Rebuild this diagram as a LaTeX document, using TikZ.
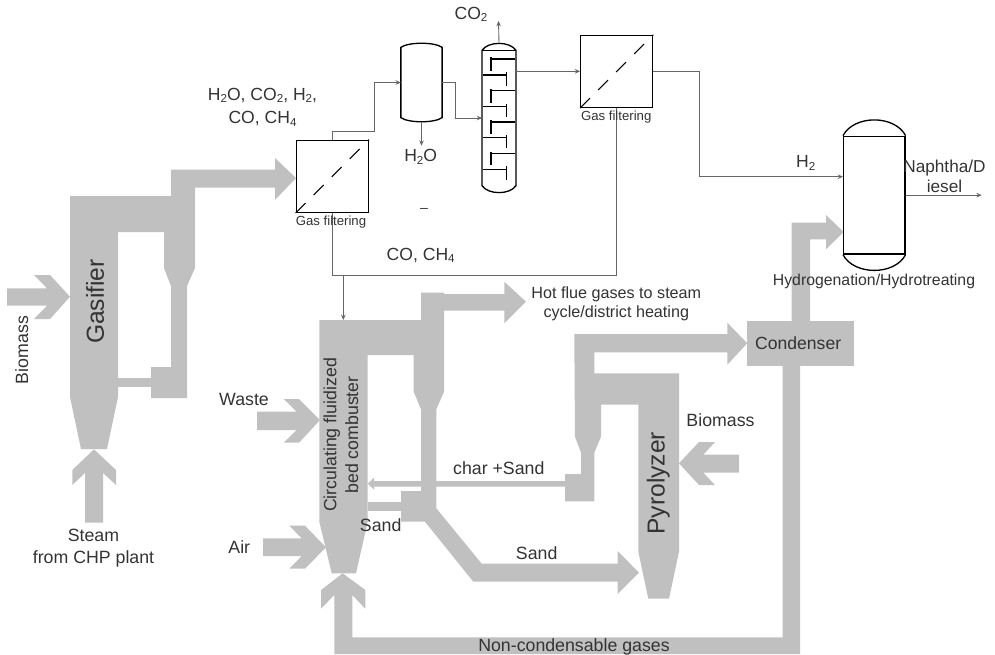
\documentclass[tikz,border=0pt]{standalone}
\usepackage{fontspec}
\setmainfont{Liberation Sans}
\usetikzlibrary{arrows.meta}
\definecolor{ductgrey}{HTML}{C0C0C0}
\definecolor{textgrey}{HTML}{333333}
\definecolor{linegrey}{HTML}{666666}
\newcommand{\gsub}[1]{\raisebox{-0.25ex}{\fontsize{6.6}{7}\selectfont #1}}
\begin{document}
\begin{tikzpicture}[
x=0.02cm, y=-0.02cm,
>={Stealth[length=3pt,width=2.6pt]},
duct/.style={fill=ductgrey, draw=none},
pipe/.style={draw=linegrey, line width=0.5pt},
vessel/.style={draw=black, line width=0.75pt},
filterbox/.style={rectangle, draw=black, line width=0.75pt, inner sep=0pt, minimum width=1.44cm, minimum height=1.44cm},
filterdash/.style={draw=black, line width=0.6pt, dash pattern=on 0.28cm off 0.23cm},
bodybox/.style={rectangle, vessel, inner sep=0pt},
lbl/.style={text=textgrey, inner sep=0pt, align=center, font=\fontsize{10.1}{11.4}\selectfont},
gaslbl/.style={lbl, font=\fontsize{10}{11.4}\selectfont},
smalllbl/.style={lbl, font=\fontsize{7.5}{8}\selectfont},
biglbl/.style={lbl, rotate=90, font=\fontsize{14}{16}\selectfont},
]
\useasboundingbox (0,0) rectangle (995,654);

%Gasifier
\fill[duct] (70,196) -- (171,196) -- (171,169.5) -- (275,169.5) -- (275,158) -- (296,178) -- (275,200) -- (275,187.5) -- (195,187.5)
  -- (195,268) -- (187,286) -- (187,398) -- (151,398) -- (151,367) -- (171,367) -- (171,286) -- (164,268) -- (164,232) -- (118,232)
  -- (118,397) -- (107,449) -- (81,449) -- (70,397) -- cycle;
\fill[duct] (118,378) rectangle (151,387);
\fill[duct] (7,288.3) -- (47,288.3) -- (34,275) -- (50,275) -- (70,296.7) -- (50,319) -- (34,319) -- (47,305.7) -- (7,305.7) -- cycle;
\fill[duct] (85,522.7) -- (85,473) -- (72.3,485) -- (72.3,470) -- (94,449.3) -- (116,470) -- (116,485) -- (103,473) -- (103,522.7) -- cycle;

%Combustor
\fill[duct] (319.3,320) -- (421,320) -- (421,292.7) -- (444,292.7) -- (444,294) -- (504.3,294) -- (504.3,281.7) -- (526,301.7) -- (504.3,323.3) -- (504.3,310.7) -- (444,310.7)
  -- (444,391.7) -- (436.3,409.3) -- (436.3,508.3) -- (481.7,563.7) -- (617.7,563.7) -- (617.7,551) -- (639,572.7) -- (617.7,594) -- (617.7,581.7)
  -- (473.3,581.7) -- (425,521.7) -- (401,521.7) -- (401,491) -- (421,491) -- (421,409.3) -- (413.7,391.7) -- (413.7,355) -- (367.7,355)
  -- (367.7,521.7) -- (356,573.3) -- (331.7,573.3) -- (319.3,521.7) -- cycle;
\fill[duct] (367.7,502.3) rectangle (401,510.7);
\fill[duct] (367.7,483.7) -- (374,477.7) -- (374,481) -- (565,481) -- (565,486.7) -- (374,486.7) -- (374,489.5) -- cycle;
\fill[duct] (257,411.7) -- (296.7,411.7) -- (283.7,399) -- (299,399) -- (320,420) -- (299,442.7) -- (283.7,442.7) -- (296.7,430) -- (257,430) -- cycle;
\fill[duct] (263,538.3) -- (301.7,538.3) -- (289.3,525.7) -- (305,525.7) -- (326,547.3) -- (305,568.7) -- (289.3,568.7) -- (301.7,556) -- (263,556) -- cycle;

%Pyrolyzer
\fill[duct] (574.3,334) -- (727.3,334) -- (727.3,322.7) -- (747.3,343.3) -- (727.3,364.7) -- (727.3,352.3) -- (594.3,352.3) -- (594.3,373.3) -- (679,373.3)
  -- (679,551.7) -- (669,598.7) -- (648.3,598.7) -- (638.3,551.7) -- (638.3,404.7) -- (601,404.7) -- (601,436.7) -- (594.3,452.7) -- (594.3,501.3)
  -- (565,501.3) -- (565,474) -- (581,474) -- (581,452.7) -- (575,436.7) -- cycle;
\fill[duct] (739,454.7) -- (703.3,454.7) -- (715,442) -- (699,442) -- (679,463.3) -- (699,485) -- (715,485) -- (703.3,472.7) -- (739,472.7) -- cycle;

%Condenser and its ducts
\fill[duct] (791.7,325) -- (791.7,222.7) -- (826,222.7) -- (826,215) -- (843.7,232) -- (826,249.3) -- (826,239.3) -- (810,239.3) -- (810,325) -- cycle;
\fill[duct] (782.7,360) -- (800,360) -- (800,654) -- (334.3,654) -- (334.3,595) -- (321,608.7) -- (321,590) -- (342.7,573.3) -- (365.3,590) -- (365.3,608.7)
  -- (352.3,595) -- (352.3,637.3) -- (782.7,637.3) -- cycle;
\node[rectangle, duct, inner sep=0pt, minimum width=2.14cm, minimum height=0.9cm, text=textgrey, font=\fontsize{10}{11.4}\selectfont] (condenser) at (800.8,343.2) {\hspace{-3pt}Condenser};

%Nodes
\node[filterbox] (filterone) at (332.25,176.25) {};
\node[filterbox] (filtertwo) at (616.7,71.3) {};
\node[bodybox, draw=none, minimum width=0.8cm, minimum height=1.38cm] (drum) at (421.5,82.5) {};
\node[bodybox, draw=none, minimum width=0.652cm, minimum height=2.68cm] (column) at (499,118) {};
\node[bodybox, minimum width=1.226cm, minimum height=2.354cm] (reactor) at (874.3,195.15) {};

\coordinate (drumkink) at (374.5,131);
\coordinate (colkink) at (455.5,82);
\coordinate (hkink) at (699,176.7);
\coordinate (branch) at (343.3,275.7);
\coordinate (combtop) at (343.3,320);
\coordinate (lowbend) at (400,275.7);
\coordinate (cotip) at (498.5,21);
\coordinate (watertip) at (421.5,145.7);
\coordinate (naphthatip) at (981.7,195.15);

%Drum outline
\draw[vessel] (drum.north west) .. controls +(8,-5.5) and +(-8,-5.5) .. (drum.north east) -- (drum.south east)
  .. controls +(-8,5.5) and +(8,5.5) .. (drum.south west) -- cycle;

%Column outline and trays
\draw[vessel] (column.north west) .. controls +(6,-9.3) and +(-6,-9.3) .. (column.north east) -- (column.south east)
  .. controls +(-6,9.3) and +(6,9.3) .. (column.south west) -- cycle;
\draw[vessel] (column.north west) -- (column.north east);
\foreach \ty in {59,90.7,122,153.3} {
  \draw[vessel] (515.3,\ty) -- (491,\ty);
  \draw[vessel] (491,\ty-1.7) -- (491,\ty+12);
}
\foreach \ty in {75,106.7,137.7,169.3} {
  \draw[vessel] (482.7,\ty) -- (506.3,\ty);
  \draw[vessel] (506.3,\ty-3) -- (506.3,\ty+10.5);
}

%Reactor caps
\draw[vessel] (reactor.north west) .. controls +(11,-21) and +(-11,-21) .. (reactor.north east);
\draw[vessel] (reactor.south west) .. controls +(11,21) and +(-11,21) .. (reactor.south east);

%Filter diagonals
\draw[filterdash] (filterone.south west) -- (filterone.north east);
\draw[filterdash] (filtertwo.south west) -- (filtertwo.north east);

%Lines
\draw[pipe, ->] (filterone.north) |- (drumkink) |- (drum.west);
\draw[pipe, ->] (drum.east |- colkink) -- (colkink) |- (column.west);
\draw[pipe, ->] (column.east |- filtertwo.west) -- (filtertwo.west);
\draw[pipe, ->] (filtertwo.east) -| (hkink) -- (reactor.west |- hkink);
\draw[pipe, ->] ([yshift=0.14cm]column.north) -- (cotip);
\draw[pipe, ->] ([yshift=-0.08cm]drum.south) -- (watertip);
\draw[pipe, ->] (reactor.east) -- (naphthatip);
\draw[pipe] (filterone.south) |- (lowbend) -| (filtertwo.south);
\draw[pipe, ->] (branch) -- (combtop);

%Labels
\node[gaslbl] (cotwolbl) at (471,14.5) {CO\gsub{2}};
\node[gaslbl] (feedlbl) at (262.5,107) {H\gsub{2}O, CO\gsub{2}, H\gsub{2},\\[2pt]CO, CH\gsub{4}};
\node[gaslbl] (waterlbl) at (420.7,157) {H\gsub{2}O};
\node[lbl] (dashlbl) at (424,210) {\fontsize{8}{8}\selectfont –};
\node[gaslbl] (tailgaslbl) at (420.7,255.5) {CO, CH\gsub{4}};
\node[gaslbl] (hydrolbl) at (805.8,163) {H\gsub{2}};
\node[lbl, font=\fontsize{9.8}{11.4}\selectfont] (naphthalbl) at (944.5,176) {Naphtha/D\\iesel};
\node[lbl, font=\fontsize{9}{10}\selectfont] (hydrotreatlbl) at (874,281) {Hydrogenation/Hydrotreating};
\node[lbl, font=\fontsize{9.2}{10.6}\selectfont] (fluelbl) at (616.3,304) {Hot flue gases to steam\\cycle/district heating};
\node[smalllbl] (filteronelbl) at (331,222.3) {Gas filtering};
\node[smalllbl] (filtertwolbl) at (616.2,116.7) {Gas filtering};
\node[lbl, rotate=90] (biomassonelbl) at (21.7,350) {Biomass};
\node[biglbl] (gasifierlbl) at (95,301.5) {Gasifier};
\node[lbl] (steamlbl) at (93.5,548) {Steam\\[1pt]from CHP plant};
\node[lbl] (wastelbl) at (244,399.5) {Waste};
\node[lbl] (airlbl) at (239.3,547.5) {Air};
\node[lbl, rotate=90] (combustorlbl) at (341,435) {Circulating fluidized\\[1pt]bed combuster};
\node[lbl] (sandonelbl) at (380.7,525) {Sand};
\node[lbl] (sandtwolbl) at (536.7,552.7) {Sand};
\node[lbl] (charlbl) at (498.8,468) {char +Sand};
\node[lbl] (biomasstwolbl) at (720.5,420) {Biomass};
\node[biglbl] (pyrolyzerlbl) at (658.3,483.3) {Pyrolyzer};
\node[lbl] (noncondlbl) at (574,646.7) {Non-condensable gases};
\end{tikzpicture}
\end{document}
